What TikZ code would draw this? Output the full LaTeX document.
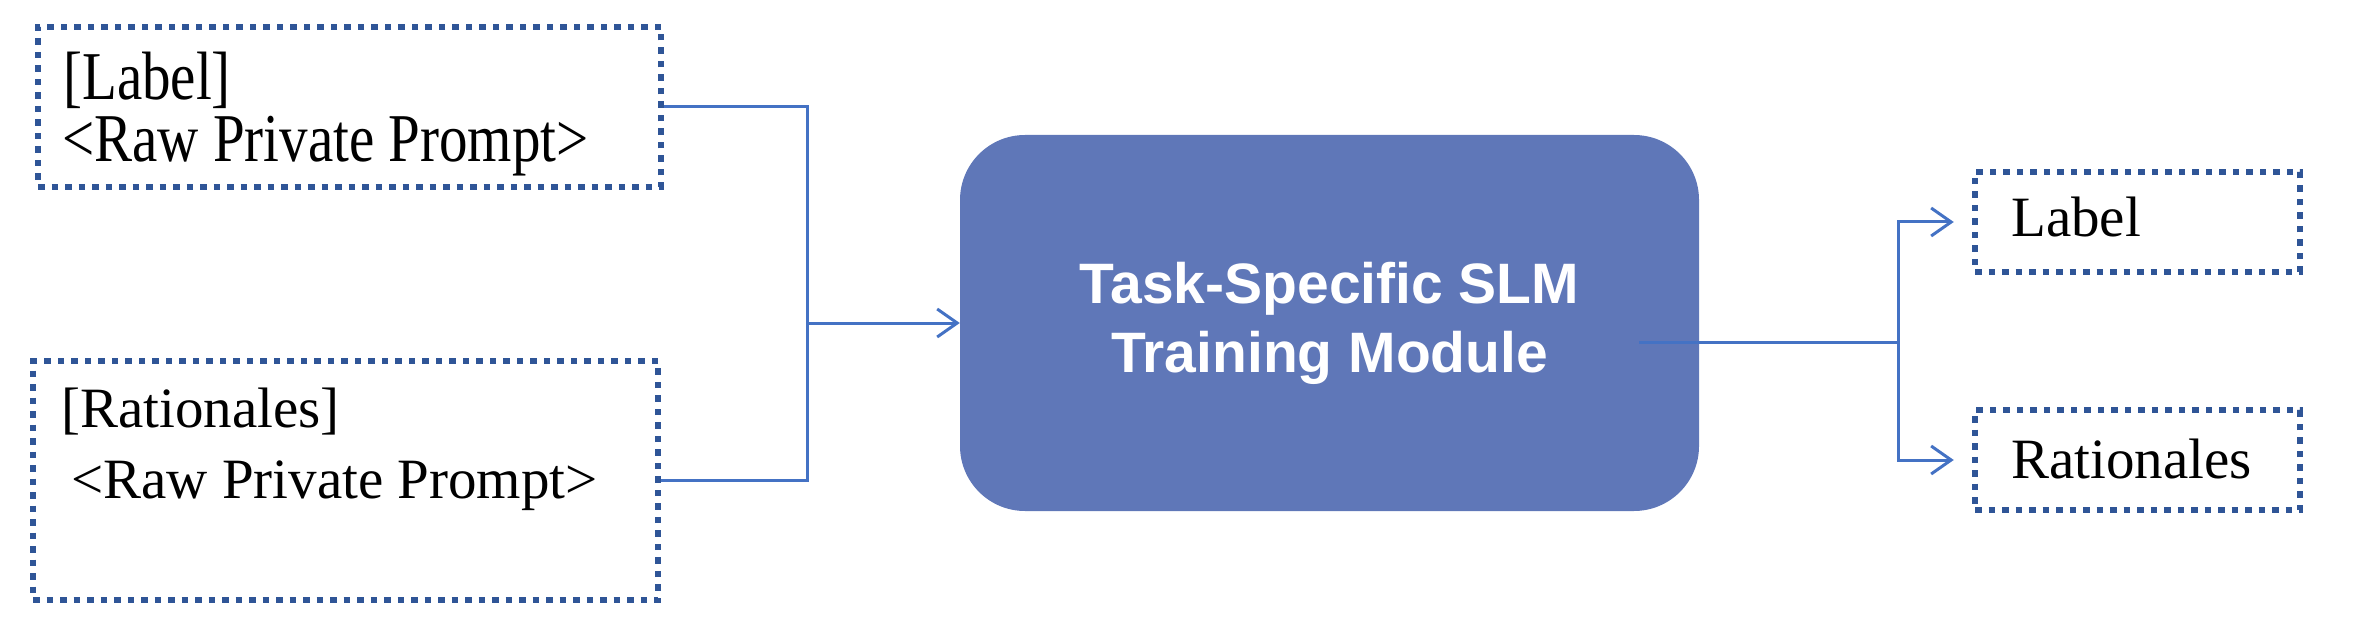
\documentclass[tikz,border=0pt]{standalone}
\usepackage{fontspec}
\setmainfont{Liberation Serif}
\newfontfamily\headfont{Liberation Sans}
\usetikzlibrary{arrows.meta}
\definecolor{dotblue}{HTML}{2F5597}
\definecolor{linkblue}{HTML}{4472C4}
\definecolor{modfill}{RGB}{95,119,184}
\newcommand{\tallA}[1]{\scalebox{1}[1.2]{#1}}
\tikzset{
  dotbox/.style={draw=dotblue, line width=6.5pt, dash pattern=on 6.5pt off 7pt, rectangle, inner sep=0pt},
  txt/.style={inner sep=0pt, anchor=base west, font=\fontsize{57}{68}\selectfont},
  conn/.style={draw=linkblue, line width=3pt},
  tip/.style={-{Straight Barb[length=20pt,width=28pt]}},
  modbox/.style={fill=modfill, draw=none, rounded corners=65pt, inner sep=0pt, text=white, align=center,
    font=\headfont\bfseries\fontsize{57}{69}\selectfont}
}
\begin{document}
\begin{tikzpicture}[x=1pt,y=-1pt]
\useasboundingbox (0,0) rectangle (2358,628);
% boxes
\node[dotbox, minimum width=623pt, minimum height=160pt] (b1) at (349.5,107) {};
\node[dotbox, minimum width=625pt, minimum height=239pt] (b2) at (345.5,480.5) {};
\node[modbox, minimum width=739pt, minimum height=376pt] (main) at (1329.5,323) {Task-Specific SLM\\Training Module};
\node[dotbox, minimum width=325pt, minimum height=100pt] (lb) at (2137.5,222) {};
\node[dotbox, minimum width=325pt, minimum height=100pt] (rb) at (2137.5,460) {};
% texts
\node[txt] (t1a) at (63,100) {\tallA{[Label]}};
\node[txt] (t1b) at (62,162) {\tallA{<Raw Private Prompt>}};
\node[txt] (t2a) at (61,427) {[Rationales]};
\node[txt] (t2b) at (71,498) {<Raw Private Prompt>};
\node[txt] (tl) at (2011,237) {Label};
\node[txt] (tr) at (2011,478) {Rationales};
% connectors
\coordinate (j) at (807,323);
\draw[conn] (b1.east) -| (j);
\draw[conn] (b2.east) -| (j);
\draw[conn, tip] (j) -- (main.west);
\coordinate (o) at (1639,342);
\coordinate (k) at (1898,342);
\draw[conn] (o) -- (k);
\draw[conn, tip, shorten >=18pt] (k) |- (lb.west);
\draw[conn, tip, shorten >=18pt] (k) |- (rb.west);
\end{tikzpicture}
\end{document}
